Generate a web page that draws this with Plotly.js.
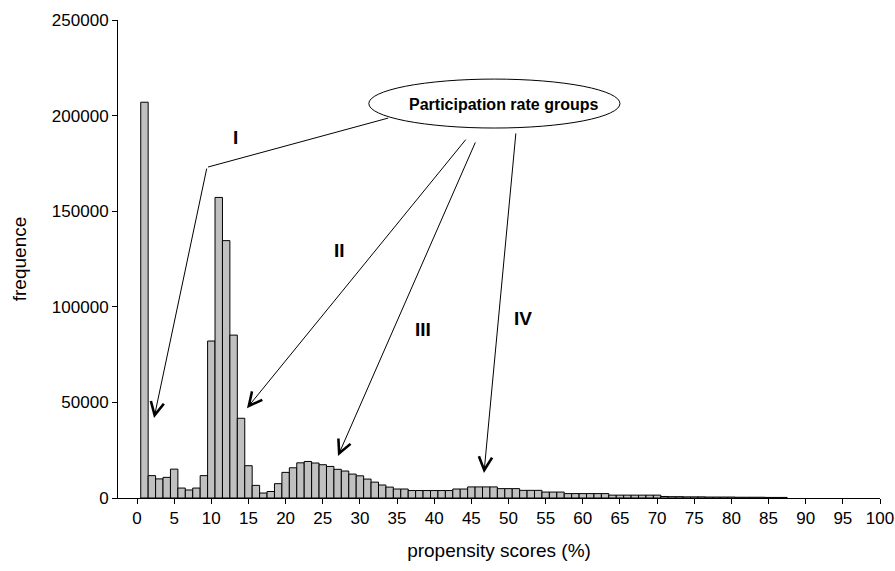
<!DOCTYPE html>
<html>
<head>
<meta charset="utf-8">
<script src="https://cdn.plot.ly/plotly-3.0.1.min.js"></script>
<style>html,body{margin:0;padding:0;background:#fff;}#chart{width:895px;height:571px;}</style>
</head>
<body>
<div id="chart"></div>
<script>
// bin centres of the propensity-score histogram (%), 1% wide bins
var binCenters = [];
for (var i = 1; i <= 87; i++) binCenters.push(i);

// frequencies
var frequencies = [
  207000, 11700, 10000, 10800, 15100, 5200, 4200, 5200, 11700, 82100,
  157200, 134600, 85200, 41700, 16900, 6600, 2600, 3400, 7500, 13400,
  15800, 18400, 19100, 18300, 17400, 16500, 15000, 14100, 12500, 11600,
  9900, 8300, 6800, 5700, 4700, 4700, 3900, 3900, 3900, 3900,
  3900, 3900, 4700, 4700, 5800, 5800, 5800, 5800, 4900, 4900,
  4900, 4000, 4000, 4000, 3100, 3100, 3100, 2300, 2300, 2300,
  2300, 2300, 2300, 1500, 1500, 1500, 1500, 1500, 1500, 1500,
  800, 700, 700, 600, 600, 600, 500, 500, 500, 500,
  400, 400, 400, 400, 300, 300, 300
];

var xTickVals = [0,5,10,15,20,25,30,35,40,45,50,55,60,65,70,75,80,85,90,95,100];
var yTickVals = [0,50000,100000,150000,200000,250000];

var groupLabels = ["I", "II", "III", "IV"];
var calloutText = "Participation rate groups";
var xTitle = "propensity scores (%)";
var yTitle = "frequence";

var font = "Liberation Sans, Arial, sans-serif";

var trace = {
  type: "bar",
  x: binCenters,
  y: frequencies,
  width: 1,
  marker: {color: "#c0c0c0", line: {color: "#000", width: 1}},
  hoverinfo: "x+y"
};

// arrow tips (data coords) and tails (pixel offsets from tip)
var arrows = [
  {x: 2.29, y: 41800, ax: 53, ay: -251},
  {x: 14.8, y: 47000, ax: 220, ay: -270},
  {x: 27.05, y: 22000, ax: 138, ay: -315},
  {x: 46.7, y: 13100, ax: 32, ay: -341}
];

var annotations = arrows.map(function (a) {
  return {x: a.x, y: a.y, xref: "x", yref: "y", ax: a.ax, ay: a.ay,
          showarrow: true, arrowhead: 5, arrowsize: 2.6, arrowwidth: 1,
          arrowcolor: "#000", text: ""};
});

var labelPos = [
  {x: 13.2, y: 188800},
  {x: 27.2, y: 129200},
  {x: 38.5, y: 87900},
  {x: 51.95, y: 94100}
];
labelPos.forEach(function (p, i) {
  annotations.push({x: p.x, y: p.y, xref: "x", yref: "y", showarrow: false,
    text: "<b>" + groupLabels[i] + "</b>",
    font: {family: font, size: 19, color: "#000"}});
});

annotations.push({x: 49.3, y: 206000, xref: "x", yref: "y", showarrow: false,
  text: "<b>" + calloutText + "</b>",
  font: {family: font, size: 16, color: "#000"}});

var shapes = [
  {type: "circle", xref: "x", yref: "y", x0: 31.2, x1: 65.0, y0: 193500, y1: 219100,
   line: {color: "#000", width: 1}, fillcolor: "rgba(0,0,0,0)"},
  {type: "line", xref: "x", yref: "y", x0: 33.8, y0: 198700, x1: 9.56, y1: 173100,
   line: {color: "#000", width: 1}}
];

var layout = {
  width: 895, height: 571,
  margin: {l: 118, r: 15, t: 20, b: 73, pad: 0},
  paper_bgcolor: "#fff", plot_bgcolor: "#fff",
  showlegend: false,
  bargap: 0,
  font: {family: font, size: 17, color: "#000"},
  xaxis: {
    range: [-2.56, 100], tickvals: xTickVals, ticktext: xTickVals.map(String),
    ticks: "outside", ticklen: 5, tickwidth: 1, tickcolor: "#000",
    showline: true, linecolor: "#000", linewidth: 1,
    showgrid: false, zeroline: false,
    tickfont: {family: font, size: 17, color: "#000"},
    title: {text: xTitle, font: {family: font, size: 19, color: "#000"}, standoff: 16}
  },
  yaxis: {
    range: [0, 250000], tickvals: yTickVals, tickformat: "d",
    ticks: "outside", ticklen: 5, tickwidth: 1, tickcolor: "#000",
    showline: true, linecolor: "#000", linewidth: 1,
    showgrid: false, zeroline: false,
    tickfont: {family: font, size: 17, color: "#000"},
    title: {text: yTitle, font: {family: font, size: 19, color: "#000"}, standoff: 20}
  },
  annotations: annotations,
  shapes: shapes
};

Plotly.newPlot("chart", [trace], layout, {displayModeBar: false, staticPlot: true});
</script>
</body>
</html>
